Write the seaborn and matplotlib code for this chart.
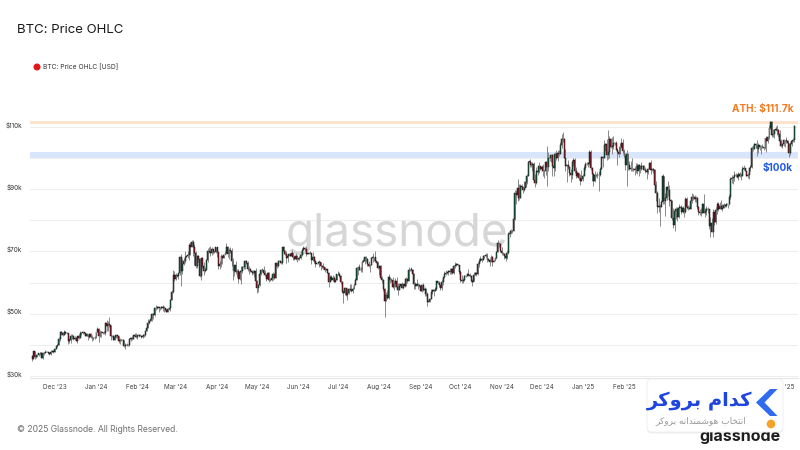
import numpy as np
import pandas as pd
import matplotlib
matplotlib.use("Agg")
import matplotlib.pyplot as plt
import matplotlib.dates as mdates
import seaborn as sns
from matplotlib.patches import FancyBboxPatch, Polygon, Circle
from matplotlib.transforms import ScaledTranslation, IdentityTransform

# ---------------- data (daily BTC candles, values in $k) ----------------
start_date = "2023-11-14"
first_open = 36.5

close_2023 = [35.5, 37.9, 36.2, 36.6, 36.6, 37.4, 37.5, 35.8, 37.4, 37.3, 37.7, 37.8, 37.5, 37.2, 37.8, 37.9, 37.7,
              38.7, 39.5, 39.9, 42.0, 44.1, 43.8, 43.3, 44.2, 43.8, 43.8, 41.2, 41.5, 42.9, 43.0, 41.9, 42.3, 41.4, 42.7, 42.3, 43.7, 43.8, 44.0, 43.7, 43.0, 43.6, 42.5, 43.5, 42.6, 42.1, 42.1, 42.3]
high_2023 = [36.8, 37.9, 37.9, 36.8, 36.8, 37.5, 37.7, 37.6, 37.8, 37.6, 38.4, 37.9, 37.8, 37.6, 38.4, 38.4, 38.1,
             38.9, 39.6, 40.2, 42.4, 44.4, 44.3, 44.0, 44.7, 44.3, 44.0, 43.8, 42.1, 43.4, 43.4, 43.1, 42.7, 42.4, 42.8, 43.4, 44.3, 44.2, 44.4, 44.0, 43.9, 43.8, 43.6, 43.7, 43.8, 43.1, 42.6, 42.9]
low_2023 = [34.9, 35.4, 35.6, 35.9, 36.2, 36.5, 36.7, 35.7, 35.6, 36.9, 37.3, 37.6, 37.2, 36.7, 36.9, 37.6, 37.5,
            37.6, 38.7, 39.3, 39.9, 41.4, 43.3, 42.8, 43.1, 43.6, 43.6, 40.2, 40.7, 40.6, 41.8, 41.7, 41.7, 41.3, 40.5, 41.8, 42.2, 43.3, 43.4, 43.6, 42.9, 42.8, 41.7, 42.3, 42.3, 41.3, 41.6, 41.9]

close_2024_h1 = [44.2, 45.0, 42.8, 44.2, 44.2, 43.9, 43.9, 47.0, 46.1, 46.6, 46.3, 42.8, 42.9, 41.7, 42.5, 43.1, 42.7, 41.3, 41.6, 41.7, 41.6, 39.5, 39.9, 40.1, 40.0, 41.8, 42.1, 42.0, 43.3, 42.9, 42.6,
                 43.1, 43.2, 43.0, 42.6, 42.7, 43.1, 44.3, 45.3, 47.1, 47.8, 48.3, 50.0, 49.7, 51.8, 51.9, 52.1, 51.7, 52.1, 51.8, 52.3, 51.9, 51.3, 50.7, 51.6, 51.7, 54.5, 57.1, 62.5, 61.2,
                 62.4, 62.0, 63.1, 68.3, 63.8, 66.1, 66.9, 68.3, 68.5, 69.0, 72.1, 71.5, 73.1, 71.4, 69.5, 65.3, 68.4, 67.6, 62.0, 67.9, 65.5, 63.8, 64.0, 67.2, 70.0, 69.9, 69.5, 70.7, 69.9, 69.7, 71.3,
                 69.7, 65.4, 66.0, 68.5, 67.8, 68.9, 69.4, 71.6, 69.1, 70.6, 70.0, 67.1, 63.8, 65.7, 63.4, 63.8, 61.3, 63.5, 63.8, 64.9, 64.9, 66.8, 66.4, 64.3, 64.5, 63.8, 63.4, 63.1, 63.8, 60.6,
                 58.3, 59.1, 62.9, 63.9, 64.0, 63.2, 62.3, 61.2, 63.1, 60.8, 60.8, 61.5, 62.9, 61.6, 66.3, 65.2, 67.0, 66.9, 66.3, 71.4, 70.1, 69.1, 67.9, 68.5, 69.3, 68.5, 69.4, 68.3, 67.6, 68.4, 67.5,
                 67.8, 67.8, 68.8, 70.6, 71.1, 70.8, 69.3, 69.3, 69.6, 69.5, 67.3, 68.2, 66.8, 66.0, 66.2, 66.7, 66.5, 65.2, 65.0, 64.9, 64.1, 64.3, 63.2, 60.3, 61.8, 60.9, 61.6, 60.3, 60.9, 62.7]
high_2024_h1 = [44.2, 45.9, 45.5, 44.8, 44.3, 44.2, 44.5, 47.2, 47.9, 47.7, 48.9, 46.5, 43.3, 43.1, 43.3, 43.6, 43.2, 42.9, 42.1, 41.9, 41.9, 41.7, 40.5, 40.5, 40.2, 42.2, 42.2, 42.8, 43.3, 43.8, 43.7,
                43.3, 43.4, 43.4, 43.1, 43.5, 43.4, 44.4, 45.6, 48.2, 48.1, 48.6, 50.2, 50.4, 52.0, 52.8, 52.6, 52.1, 52.3, 52.5, 52.9, 52.4, 52.0, 51.5, 51.7, 51.9, 54.9, 57.6, 63.9, 63.7,
                63.1, 62.4, 63.2, 68.5, 69.2, 67.6, 67.9, 70.0, 68.7, 70.0, 72.8, 72.9, 73.6, 73.8, 72.4, 70.0, 68.8, 68.9, 68.0, 68.0, 68.2, 66.6, 65.0, 67.6, 71.2, 71.5, 71.7, 71.5, 70.9, 70.3, 71.4,
                71.4, 69.7, 66.9, 69.3, 68.7, 69.0, 70.3, 72.7, 71.8, 71.2, 71.3, 71.2, 67.9, 65.8, 66.9, 64.4, 64.5, 64.1, 65.5, 65.4, 65.7, 67.2, 67.2, 67.1, 65.3, 64.8, 63.9, 64.0, 64.2, 64.7,
                60.9, 59.6, 63.3, 64.5, 64.6, 65.5, 64.0, 62.9, 63.4, 63.4, 61.5, 61.8, 63.4, 63.1, 66.4, 66.7, 67.4, 67.4, 67.0, 71.5, 71.9, 70.6, 70.0, 69.2, 69.5, 69.5, 70.6, 69.6, 68.9, 69.5, 69.0,
                67.9, 68.4, 70.2, 71.0, 71.7, 71.6, 71.9, 69.5, 69.9, 70.1, 69.6, 69.9, 68.4, 67.3, 66.4, 66.9, 67.2, 66.6, 65.7, 66.4, 65.0, 64.5, 64.5, 63.4, 62.3, 62.5, 62.3, 62.2, 61.2, 62.9]
low_2024_h1 = [42.1, 44.2, 40.8, 42.6, 42.5, 43.4, 43.6, 43.2, 44.6, 44.3, 45.6, 41.5, 42.4, 41.7, 41.7, 42.1, 42.2, 40.6, 40.3, 41.4, 41.5, 39.4, 38.6, 39.5, 39.5, 39.8, 41.4, 41.6, 41.8, 42.7, 42.3,
               41.9, 42.6, 42.9, 42.2, 42.3, 42.6, 42.8, 44.3, 45.3, 46.8, 47.6, 47.7, 48.4, 49.3, 51.3, 51.6, 50.7, 51.2, 51.6, 50.8, 50.7, 50.9, 50.6, 50.6, 51.3, 50.9, 54.5, 56.7, 60.4,
               60.8, 61.7, 61.3, 62.4, 59.0, 62.9, 65.6, 66.2, 68.1, 67.9, 67.2, 68.9, 71.3, 68.6, 65.6, 64.8, 64.6, 66.6, 61.7, 60.8, 64.6, 62.3, 63.5, 63.9, 66.7, 69.5, 68.4, 68.9, 69.1, 69.5, 69.6,
               68.1, 64.5, 64.5, 65.1, 66.0, 67.8, 68.8, 69.1, 68.2, 67.5, 69.6, 65.3, 60.9, 62.2, 62.8, 61.8, 59.8, 60.8, 59.6, 63.2, 64.3, 64.5, 65.9, 63.6, 62.8, 63.3, 62.4, 62.8, 61.8, 59.2,
               56.6, 56.9, 58.8, 62.6, 63.5, 62.8, 62.2, 60.6, 60.7, 60.2, 60.5, 60.6, 60.8, 61.1, 61.4, 64.6, 65.1, 66.6, 66.1, 66.0, 69.2, 68.9, 66.3, 66.6, 68.5, 68.5, 68.3, 67.3, 67.2, 67.2, 66.7,
               67.4, 67.3, 67.6, 68.6, 70.4, 70.2, 68.5, 69.2, 69.1, 69.2, 66.1, 66.9, 66.3, 65.1, 65.9, 66.1, 65.1, 64.1, 64.7, 64.5, 63.4, 63.9, 63.2, 58.5, 60.3, 60.7, 60.6, 60.1, 60.3, 60.7]

close_2024_h2 = [62.9, 62.1, 60.2, 57.0, 56.7, 58.2, 55.9, 56.7, 58.0, 57.7, 57.3, 57.9, 59.2, 60.8, 64.7, 65.0, 64.1, 63.9, 66.7, 67.1, 68.2, 67.6, 65.9, 65.4, 65.8, 67.9, 68.3, 68.2, 66.8, 66.2, 64.6,
                 65.4, 61.5, 60.7, 58.1, 54.0, 56.0, 55.0, 61.7, 60.9, 60.9, 58.7, 59.4, 60.6, 58.7, 57.6, 58.9, 59.5, 58.4, 59.5, 59.0, 61.2, 60.4, 64.1, 64.2, 64.2, 62.8, 59.4, 59.0, 59.4, 59.1, 58.9,
                 57.3, 59.1, 57.5, 58.0, 56.2, 53.9, 54.2, 54.8, 57.0, 57.7, 57.3, 58.1, 60.5, 60.0, 59.2, 58.2, 60.3, 61.7, 62.9, 63.2, 63.3, 63.6, 63.3, 64.3, 63.1, 65.2, 65.8, 65.9, 65.6, 63.3,
                 60.8, 60.6, 60.8, 62.1, 62.1, 62.8, 62.3, 62.2, 60.6, 60.3, 62.5, 63.2, 62.9, 66.1, 67.0, 67.6, 67.4, 68.4, 68.4, 69.0, 67.4, 67.4, 66.7, 68.2, 66.6, 67.0, 68.0, 69.9, 72.7, 72.3, 70.2,
                 69.5, 69.3, 68.7, 67.8, 69.4, 75.6, 75.9, 76.5, 76.7, 80.5, 88.7, 88.0, 90.4, 87.3, 91.1, 90.6, 89.8, 90.5, 92.3, 94.3, 98.9, 98.9, 97.7, 98.0, 93.0, 91.9, 95.9, 95.6, 97.5, 96.4,
                 97.2, 95.9, 96.0, 98.8, 97.0, 99.9, 99.9, 101.1, 97.4, 96.7, 101.2, 100.0, 101.5, 101.4, 104.3, 106.0, 106.1, 100.0, 97.5, 97.8, 97.2, 95.1, 94.7, 98.7, 99.4, 95.8, 94.2, 95.2, 93.6, 92.6, 93.4]
high_2024_h2 = [63.8, 63.3, 62.3, 60.5, 57.5, 58.5, 58.3, 58.2, 58.3, 59.4, 59.4, 58.5, 59.8, 61.4, 64.9, 65.4, 66.1, 65.1, 67.4, 67.6, 68.4, 68.5, 67.8, 67.1, 66.1, 68.2, 69.4, 68.3, 70.0, 66.9, 66.8,
                65.6, 65.6, 62.2, 61.1, 58.3, 57.0, 57.7, 62.7, 61.8, 61.4, 61.8, 60.7, 61.5, 61.7, 59.8, 59.8, 59.6, 60.3, 59.6, 61.4, 61.8, 61.4, 64.9, 64.5, 65.0, 64.5, 63.2, 60.2, 61.2, 59.9, 59.4,
                59.0, 59.4, 59.8, 58.5, 58.3, 56.9, 54.8, 55.2, 58.0, 58.0, 57.9, 58.6, 60.6, 60.5, 60.4, 59.2, 61.3, 61.8, 63.8, 64.1, 63.5, 64.0, 64.7, 64.6, 64.8, 65.8, 66.5, 66.3, 66.1, 65.6,
                64.1, 62.4, 61.5, 62.4, 62.4, 63.0, 64.5, 63.2, 62.5, 61.3, 63.4, 63.5, 63.3, 66.5, 67.8, 68.4, 67.9, 68.9, 68.7, 69.4, 69.5, 67.9, 67.5, 68.8, 68.7, 67.3, 68.3, 70.2, 73.6, 72.9, 72.7,
                71.6, 69.9, 69.4, 69.0, 70.5, 76.4, 76.9, 77.2, 76.9, 81.5, 89.6, 89.9, 93.4, 91.8, 91.8, 91.6, 91.0, 92.6, 94.0, 94.9, 99.0, 99.6, 98.9, 98.6, 98.7, 94.9, 97.3, 96.6, 98.7, 97.5,
                97.9, 98.2, 96.3, 99.0, 104.0, 101.9, 100.5, 101.4, 101.2, 98.3, 101.9, 102.5, 102.6, 102.6, 105.1, 107.8, 108.3, 106.5, 102.8, 98.1, 99.5, 97.3, 96.4, 99.4, 99.9, 99.9, 97.3, 95.5, 95.2, 94.9, 96.1]
low_2024_h2 = [62.5, 61.8, 59.5, 56.8, 53.5, 56.0, 55.8, 54.3, 56.3, 57.2, 57.0, 56.6, 57.8, 59.2, 60.7, 62.5, 63.9, 63.3, 63.3, 66.5, 65.9, 66.6, 65.5, 65.1, 63.5, 65.7, 66.7, 67.1, 66.6, 65.3, 64.5,
               62.3, 61.2, 59.9, 57.3, 49.1, 54.0, 54.6, 54.7, 59.8, 60.3, 58.4, 57.7, 58.5, 58.4, 56.1, 57.7, 58.8, 58.4, 57.9, 58.6, 58.8, 59.8, 60.4, 63.6, 63.8, 62.8, 58.1, 57.9, 58.8, 57.8, 58.7,
               57.2, 57.1, 57.4, 55.6, 55.7, 52.6, 53.7, 53.7, 54.6, 56.4, 55.6, 57.3, 57.7, 59.6, 58.7, 57.5, 57.6, 59.2, 61.6, 62.4, 62.8, 62.4, 62.7, 62.8, 62.9, 62.7, 64.8, 65.4, 65.4, 62.9,
               60.2, 59.9, 59.8, 60.5, 61.7, 62.0, 62.1, 61.8, 60.3, 58.9, 60.4, 62.4, 62.0, 62.4, 64.9, 66.8, 66.7, 67.2, 68.0, 68.1, 66.6, 66.8, 65.3, 66.5, 65.5, 66.6, 66.8, 67.6, 69.7, 71.4, 69.7,
               68.8, 69.0, 67.5, 66.8, 67.5, 69.3, 74.5, 75.6, 75.8, 76.5, 80.2, 85.1, 86.2, 86.7, 87.1, 90.1, 88.8, 89.4, 90.8, 91.6, 94.1, 97.3, 97.2, 95.8, 92.6, 90.8, 91.8, 94.7, 95.3, 96.2,
               95.8, 94.3, 93.6, 94.7, 91.0, 95.7, 99.0, 98.9, 94.2, 94.3, 95.7, 99.3, 99.2, 100.6, 101.3, 103.3, 105.3, 100.0, 95.7, 92.2, 96.4, 94.2, 92.4, 93.4, 97.6, 95.2, 93.5, 94.0, 93.1, 91.3, 92.5]

close_2025 = [94.4, 96.9, 98.1, 98.2, 98.3, 102.1, 96.9, 95.0, 92.5, 94.7, 94.6, 94.5, 94.5, 96.5, 100.5, 99.9, 104.1, 104.4, 101.1, 102.0, 106.1, 103.7, 104.0, 104.8, 104.7, 102.6, 102.1, 101.3, 103.7, 104.7, 102.4,
              100.7, 97.7, 101.4, 97.9, 96.6, 96.6, 96.5, 96.5, 96.1, 97.4, 95.7, 97.9, 96.6, 97.5, 97.6, 96.1, 95.8, 95.5, 96.6, 98.3, 96.1, 96.6, 96.3, 91.4, 88.7, 84.3, 84.7, 84.4,
              86.0, 94.3, 86.1, 87.2, 90.6, 89.9, 86.7, 86.2, 80.7, 78.5, 82.9, 83.7, 81.1, 84.0, 84.3, 82.6, 84.1, 82.7, 86.9, 84.2, 84.0, 83.8, 86.1, 87.5, 87.4, 86.9, 87.2, 84.4, 82.6, 82.3, 82.5,
              85.2, 82.5, 83.1, 83.8, 83.5, 78.2, 79.2, 76.3, 82.6, 79.6, 83.4, 85.3, 83.7, 84.5, 83.7, 84.0, 84.9, 84.5, 85.1, 85.2, 87.5, 93.4, 93.7, 93.9, 94.7, 94.6, 93.8, 95.0, 94.3, 94.2,
              96.5, 96.9, 95.9, 94.3, 94.7, 96.8, 97.0, 103.2, 102.9, 104.6, 104.1, 102.8, 104.1, 103.5, 103.7, 103.5, 103.2, 106.4, 105.6, 106.8, 109.7, 111.7, 107.3, 107.8, 109.0, 109.4, 108.9, 107.8, 105.6, 103.9, 104.6,
              105.7, 105.8, 105.4, 104.7, 101.6, 104.4, 105.6, 105.7, 110.3]
high_2025 = [94.9, 97.8, 98.9, 98.7, 98.8, 102.5, 102.7, 97.3, 95.3, 95.8, 94.9, 95.4, 95.9, 97.3, 100.7, 100.8, 105.9, 104.9, 106.3, 109.1, 107.0, 106.4, 106.8, 107.1, 105.3, 105.5, 103.2, 103.8, 104.8, 106.5, 106.0,
             102.8, 101.5, 102.5, 101.7, 99.0, 99.2, 100.1, 96.9, 97.3, 98.3, 98.5, 98.1, 97.9, 98.8, 97.9, 97.7, 97.0, 96.0, 96.9, 98.7, 99.5, 96.7, 96.7, 96.5, 92.5, 89.3, 87.1, 85.1,
             86.6, 95.0, 94.4, 88.9, 91.0, 92.8, 91.3, 86.8, 86.5, 83.9, 83.6, 84.3, 84.2, 85.2, 84.7, 85.0, 84.7, 84.0, 87.4, 87.4, 84.8, 84.5, 86.2, 88.7, 88.5, 88.3, 87.8, 87.5, 84.6, 83.5, 83.9,
             85.5, 88.5, 83.9, 84.7, 84.2, 83.8, 81.2, 80.8, 83.5, 82.7, 84.2, 85.9, 86.0, 85.8, 86.4, 85.4, 85.5, 85.1, 85.6, 85.3, 88.5, 93.8, 94.7, 94.0, 95.7, 95.3, 95.0, 95.6, 95.4, 95.1,
             97.4, 97.9, 96.9, 96.0, 95.2, 96.9, 97.7, 104.0, 104.3, 104.9, 104.9, 105.7, 104.9, 104.3, 104.1, 104.5, 103.7, 106.6, 107.1, 107.2, 110.7, 112.0, 111.8, 109.4, 109.3, 110.4, 110.7, 109.3, 108.9, 106.3, 104.9,
             105.9, 105.9, 106.8, 105.9, 105.0, 105.3, 105.9, 106.5, 110.6]
low_2025 = [92.8, 94.2, 96.2, 97.8, 97.3, 97.9, 96.1, 92.5, 91.2, 92.2, 93.8, 93.7, 89.3, 94.3, 96.5, 97.3, 100.0, 102.3, 99.5, 99.6, 100.1, 103.3, 101.3, 102.8, 104.1, 102.5, 97.8, 100.3, 101.3, 103.3, 101.6,
            100.3, 96.2, 91.2, 96.2, 96.2, 95.7, 95.7, 95.7, 94.7, 95.3, 94.9, 94.1, 95.3, 96.3, 97.3, 96.1, 95.2, 93.4, 95.0, 96.4, 94.9, 95.8, 95.3, 91.4, 86.1, 82.3, 82.8, 78.3,
            84.3, 85.1, 85.1, 81.5, 86.4, 87.8, 84.7, 85.3, 80.1, 77.5, 76.6, 80.6, 79.9, 80.8, 83.9, 82.0, 82.5, 81.2, 82.4, 83.6, 83.2, 83.7, 83.6, 85.6, 86.4, 85.9, 85.8, 83.6, 81.7, 81.6, 81.3,
            82.4, 82.3, 81.2, 81.7, 82.4, 77.2, 74.5, 76.2, 74.6, 78.5, 78.9, 82.2, 83.1, 83.7, 83.6, 83.0, 83.9, 84.2, 84.3, 83.9, 85.0, 87.0, 91.9, 91.7, 92.8, 93.9, 93.7, 92.9, 93.8, 92.9,
            94.1, 96.3, 95.7, 94.2, 93.5, 93.4, 95.8, 96.9, 102.4, 102.8, 103.4, 100.8, 101.5, 102.6, 101.4, 103.1, 102.6, 102.9, 102.1, 104.8, 106.2, 109.3, 106.8, 106.9, 106.6, 108.7, 107.5, 106.7, 105.4, 103.7, 103.2,
            103.9, 103.7, 105.0, 104.2, 100.4, 101.1, 103.9, 105.1, 105.3]

y_ticks = [30, 40, 50, 60, 70, 80, 90, 100, 110]
y_tick_labels = ["$30k", "", "$50k", "", "$70k", "", "$90k", "", "$110k"]
ath_value = 111.7
band_100k = (100.0, 102.0)
band_ath = (110.9, 111.8)

# ---------------- frame ----------------
close = np.array(close_2023 + close_2024_h1 + close_2024_h2 + close_2025)
high = np.array(high_2023 + high_2024_h1 + high_2024_h2 + high_2025)
low = np.array(low_2023 + low_2024_h1 + low_2024_h2 + low_2025)
dates = pd.date_range(start_date, periods=len(close), freq="D")
opens = np.concatenate([[first_open], close[:-1]])
df = pd.DataFrame({"date": dates, "open": opens, "high": high, "low": low, "close": close})
df["up"] = df["close"] >= df["open"]

sns.set_theme(style="white")
plt.rcParams["font.family"] = ["Inter", "DejaVu Sans"]

W, H = 800, 450
fig = plt.figure(figsize=(8, 4.5), dpi=100)
fig.patch.set_facecolor("white")


def fx(px):
    return px / W


def fy(py):
    return 1 - py / H


ax = fig.add_axes([fx(30), fy(378), fx(798) - fx(30), fy(100) - fy(378)])
ax.set_facecolor("white")

# reference bands
ax.axhspan(*band_100k, color="#d9e5fb", lw=0, zorder=1)
ax.axhspan(*band_ath, color="#fde2cc", lw=0, zorder=1)

# watermark
ax.text(0.4965, 1 - 234 / H, "glassnode", transform=fig.transFigure, ha="center", va="center",
        fontsize=33, color="#d6d6d6", zorder=1.5, family=["Inter", "DejaVu Sans"])

# candles
x = mdates.date2num(df["date"])
ax.vlines(x, df["low"], df["high"], color="#8a8a8a", linewidth=0.7, zorder=2)
body_bottom = np.minimum(df["open"], df["close"])
body_h = np.maximum(np.abs(df["close"] - df["open"]), 0.08)
colors = np.where(df["up"], "#17704a", "#a8162b")
ax.bar(x, body_h, bottom=body_bottom, width=0.72, color=colors, edgecolor="#161616",
       linewidth=0.35, zorder=3)

# axes
t0 = mdates.date2num(pd.Timestamp("2024-01-01"))
ax.set_xlim(t0 + (30 - 96) / 1.33, t0 + (798 - 96) / 1.33)
ax.set_ylim(29.36, 118.67)
ax.set_yticks(y_ticks)
ax.set_yticklabels(y_tick_labels)
ax.grid(axis="y", color="#eeeeee", linewidth=0.8, zorder=0)
ax.grid(axis="x", visible=False)
ax.xaxis.set_major_locator(mdates.MonthLocator())
ax.xaxis.set_major_formatter(mdates.DateFormatter("%b '%y"))
ax.tick_params(axis="x", labelsize=4.6, labelcolor="#444444", length=3, color="#e2e2e2",
               direction="in", pad=4.5)
ax.tick_params(axis="y", labelsize=4.6, labelcolor="#333333", length=0, pad=5.8)
off = ScaledTranslation(0, 2.7 / 100, fig.dpi_scale_trans)
for lab in ax.get_yticklabels():
    lab.set_transform(lab.get_transform() + off)
for s in ["top", "right", "left"]:
    ax.spines[s].set_visible(False)
ax.spines["bottom"].set_color("#e6e6e6")
ax.spines["bottom"].set_linewidth(0.8)

# titles and annotations
fig.text(fx(17), fy(30), "BTC: Price OHLC", ha="left", va="center", fontsize=9.5, color="#1a1a1a")
fig.add_artist(Circle((37, H - 67), 2.8, color="#e4161c", transform=IdentityTransform()))
fig.text(fx(43), fy(67), "BTC: Price OHLC [USD]", ha="left", va="center", fontsize=4.8, color="#333333")
fig.text(fx(793), fy(108.7), f"ATH: ${ath_value}k", ha="right", va="center", fontsize=7.2,
         fontweight="bold", color="#f47a20")
fig.text(fx(793), fy(168.3), "$100k", ha="right", va="center", fontsize=7.2,
         fontweight="bold", color="#1f5ae6")
fig.text(fx(17), fy(430), "\u00a9 2025 Glassnode. All Rights Reserved.", ha="left", va="center",
         fontsize=6.2, color="#707070")

# bottom-right logos
fig.text(fx(740), fy(437), "glassnode", ha="center", va="center", fontsize=11.5, fontweight="bold",
         color="#1e1e1e", zorder=5)
fig.add_artist(FancyBboxPatch((647, H - 433.5), 136, 54, boxstyle="round,pad=0,rounding_size=5",
                              facecolor="black", alpha=0.07, edgecolor="none",
                              transform=IdentityTransform(), zorder=9))
fig.add_artist(FancyBboxPatch((647, H - 432), 136, 53, boxstyle="round,pad=0,rounding_size=5",
                              facecolor="white", edgecolor="#ececec", linewidth=0.6,
                              transform=IdentityTransform(), zorder=10))
chev = [(770, 389), (777.5, 389), (764.5, 402.5), (777.5, 416), (770, 416), (756, 402.5)]
fig.add_artist(Polygon([(px, H - py) for px, py in chev], closed=True, facecolor="#2f6bf0",
                       edgecolor="none", transform=IdentityTransform(), zorder=11))
fig.add_artist(Circle((771, H - 424), 3.6, color="#f7a126", transform=IdentityTransform(), zorder=11))

# Persian brand text (presentation forms, visual order)
brand_forms = [0xFB90, 0xFEAA, 0xFE8D, 0xFEE1, 0x20, 0xFE91, 0xFEAE, 0xFEED, 0xFB90, 0xFEAE]
sub_forms = [0xFE8D, 0xFEE7, 0xFE98, 0xFEA8, 0xFE8E, 0xFE8F, 0x20,
             0xFEEB, 0xFEEE, 0xFEB7, 0xFEE4, 0xFEE8, 0xFEAA, 0xFE8D, 0xFEE7, 0xFEEA, 0x20,
             0xFE91, 0xFEAE, 0xFEED, 0xFB90, 0xFEAE]
brand = "".join(chr(c) for c in reversed(brand_forms))
sub = "".join(chr(c) for c in reversed(sub_forms))
fig.text(fx(700), fy(400), brand, ha="center", va="center", fontsize=14, fontweight="bold",
         color="#1f45e0", family=["DejaVu Sans"], zorder=11)
fig.text(fx(700.5), fy(421), sub, ha="center", va="center", fontsize=6.5,
         color="#9a9a9a", family=["DejaVu Sans"], zorder=11)

fig.savefig("out.png", dpi=100, facecolor="white")
